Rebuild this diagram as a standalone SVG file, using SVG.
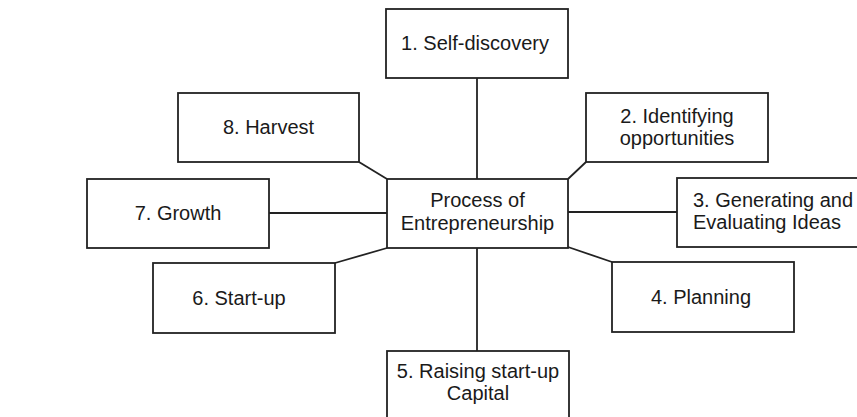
<svg xmlns="http://www.w3.org/2000/svg" width="857" height="417" viewBox="0 0 857 417">
<style>
.box{fill:#ffffff;stroke:#222;stroke-width:1.8}
.ln{stroke:#222;stroke-width:1.8;fill:none}
text{font-family:"Liberation Sans",Arial,sans-serif;font-size:20px;fill:#1a1a1a}
.c{text-anchor:middle}
</style>
<rect width="857" height="417" fill="#ffffff"/>
<g id="connectors">
<line class="ln" x1="477" y1="78" x2="477" y2="179"/>
<line class="ln" x1="568" y1="179" x2="586" y2="162"/>
<line class="ln" x1="568" y1="212" x2="677" y2="212"/>
<line class="ln" x1="568" y1="247" x2="612" y2="262"/>
<line class="ln" x1="477" y1="248" x2="477" y2="351"/>
<line class="ln" x1="387" y1="248" x2="335" y2="263"/>
<line class="ln" x1="269" y1="213" x2="387" y2="213"/>
<line class="ln" x1="359" y1="162" x2="387" y2="179"/>
</g>
<g id="center">
<rect class="box" x="387" y="179" width="181" height="69"/>
<text class="c" x="477.5" y="207">Process of</text>
<text class="c" x="477.5" y="230">Entrepreneurship</text>
</g>
<g id="n1">
<rect class="box" x="386" y="9" width="182" height="69"/>
<text class="c" x="475" y="50">1. Self-discovery</text>
</g>
<g id="n2">
<rect class="box" x="586" y="93" width="182" height="69"/>
<text class="c" x="677" y="123">2. Identifying</text>
<text class="c" x="677" y="145">opportunities</text>
</g>
<g id="n3">
<rect class="box" x="677" y="178" width="190" height="69"/>
<text x="693" y="207">3. Generating and</text>
<text x="693" y="229">Evaluating Ideas</text>
</g>
<g id="n4">
<rect class="box" x="612" y="262" width="182" height="70"/>
<text class="c" x="701" y="304">4. Planning</text>
</g>
<g id="n5">
<rect class="box" x="387" y="351" width="182" height="80"/>
<text class="c" x="478" y="378">5. Raising start-up</text>
<text class="c" x="478" y="400">Capital</text>
</g>
<g id="n6">
<rect class="box" x="153" y="263" width="182" height="70"/>
<text class="c" x="239" y="305">6. Start-up</text>
</g>
<g id="n7">
<rect class="box" x="87" y="179" width="182" height="69"/>
<text class="c" x="178" y="220">7. Growth</text>
</g>
<g id="n8">
<rect class="box" x="178" y="93" width="181" height="69"/>
<text class="c" x="268.5" y="134">8. Harvest</text>
</g>
</svg>
